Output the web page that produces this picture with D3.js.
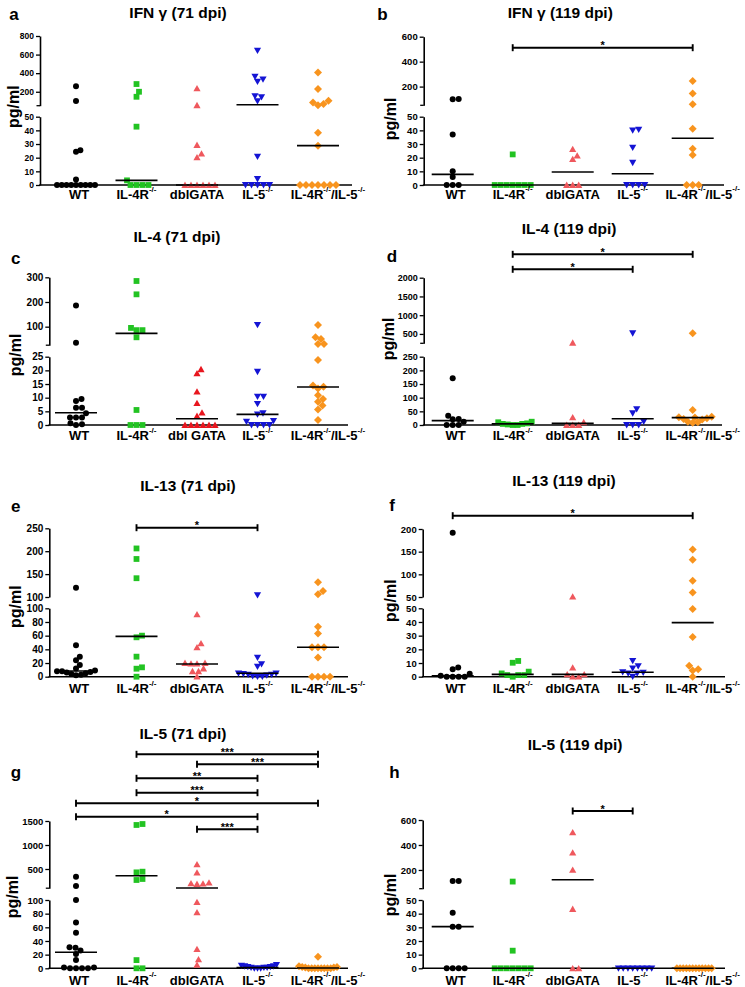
<!DOCTYPE html>
<html><head><meta charset="utf-8">
<script src="https://cdn.jsdelivr.net/npm/d3@7"></script>
<style>
body{margin:0;background:#fff}
text{font-family:"Liberation Sans",Arial,Helvetica,sans-serif;font-weight:bold;fill:#000}
</style>
</head><body>
<svg id="fig" width="745" height="987"></svg>
<script>
// ---------------- DATA ----------------
const categories = ["WT","IL-4R-/-","dblGATA","IL-5-/-","IL-4R-/-/IL-5-/-"];
const categoryLabels  = ["WT","IL-4R{-/-}","dblGATA","IL-5{-/-}","IL-4R{-/-}/IL-5{-/-}"];
const categoryLabelsC = ["WT","IL-4R{-/-}","dbl GATA","IL-5{-/-}","IL-4R{-/-}/IL-5{-/-}"];
const seriesColors = ["#000000","#22c322","#ef585d","#1414d4","#f8941e"];
const seriesColorsC = ["#000000","#22c322","#e8161e","#1414d4","#f8941e"];

// a: IFN-gamma 71 dpi (pg/ml)
const ifn71 = [
  [260,100,25.4,24.4,4.1,0,0,0,0,0,0,0,0,0],
  [283,200,146,42.7,3.4,0,0,0,0],
  [236,55,29.3,23,20.2,0,0,0,0,0,0],
  [642,362,333,308,153,142,99,20.7,4.4,0,0,0,0,0],
  [408,229,103,85,68,55,38.3,28.8,0,0,0,0,0,0,0]
];
const ifn71Median = [0,3.4,0,60,28.8];
const ifn71Lower = [0,50], ifn71Upper = [50,800];
const ifn71LowerTicks = [0,10,20,30,40,50], ifn71UpperTicks = [200,400,600,800];

// b: IFN-gamma 119 dpi
const ifn119 = [
  [101,99,37,10,5.9,0,0,0],
  [22.4,0,0,0,0,0,0,0],
  [26.3,21.5,19,0,0,0],
  [40.5,40,27.3,16.3,0,0,0,0],
  [245,144,59,41.2,26.6,22,0,0,0]
];
const ifn119Median = [7.8,0,9.5,8.2,34.2];
const ifn119Lower = [0,50], ifn119Upper = [50,600];
const ifn119LowerTicks = [0,10,20,30,40,50], ifn119UpperTicks = [200,400,600];
const ifn119Sig = [["IL-4R-/-","IL-4R-/-/IL-5-/-","*"]];

// c: IL-4 71 dpi
const il4_71 = [
  [186,35,9.5,8.8,6.3,6.3,4.3,2.7,2.7,2.7,0.6,0.3,0],
  [285,231,95,86,86,57,5.5,0,0,0],
  [20.4,18.9,12.2,8,4.5,3.3,0,0,0,0,0,0],
  [107,19.5,10.4,10.4,7.7,4.3,3.9,1.5,1.2,0,0,0,0],
  [107,57,50,30,30,23.8,14.5,14,13.4,10.9,9.5,8.5,7.1,5.7,1.8]
];
const il4_71Median = [4.5,73,2.3,3.9,13.9];
const il4_71Lower = [0,25], il4_71Upper = [25,300];
const il4_71LowerTicks = [0,5,10,15,20,25], il4_71UpperTicks = [100,200,300];

// d: IL-4 119 dpi
const il4_119 = [
  [171,34,22,21,12,0,0,0],
  [12,10,6,4,4,2,0,0],
  [265,28,10,0,0,0],
  [518,58,43,12,0,0,0],
  [518,55,30,28,27,25,22,20,12,10,8]
];
const il4_119Median = [16,4,6,23,27];
const il4_119Lower = [0,250], il4_119Upper = [250,2000];
const il4_119LowerTicks = [0,50,100,150,200,250], il4_119UpperTicks = [500,1000,1500,2000];
const il4_119Sig = [["IL-4R-/-","IL-4R-/-/IL-5-/-","*"],["IL-4R-/-","IL-5-/-","*"]];

// e: IL-13 71 dpi
const il13_71 = [
  [120,46,29,24,17,12,9,8,8,7,6,5,4,3,2],
  [206,183,141,60,57.6,29.3,13.7,11.7,0],
  [91,48.8,43,20,20,19,19,12,8,8,0],
  [104,28,18.5,14.6,5,5,4,3,3,2,1,0,0],
  [132,113,106,73,63,43,43,43,28,0,0,0,0]
];
const il13_71Median = [8.3,59,18.5,5,43];
const il13_71Lower = [0,100], il13_71Upper = [100,250];
const il13_71LowerTicks = [0,20,40,60,80,100], il13_71UpperTicks = [100,150,200,250];
const il13_71Sig = [["IL-4R-/-","IL-5-/-","*"]];

// f: IL-13 119 dpi
const il13_119 = [
  [192,6.8,5.4,2.2,0.7,0,0,0,0],
  [11.5,10.2,3.7,2.4,1.2,1.2,1.2,0],
  [50.7,6.6,1.7,1.7,0,0],
  [11.5,7.8,6.1,3.4,3,2.5,2.5,0],
  [155,132,86,60,49.5,29,8,5.4,4.6,0]
];
const il13_119Median = [0.7,1.7,1.7,3.2,39.5];
const il13_119Lower = [0,50], il13_119Upper = [50,200];
const il13_119LowerTicks = [0,10,20,30,40,50], il13_119UpperTicks = [50,100,150,200];
const il13_119Sig = [["WT","IL-4R-/-/IL-5-/-","*"]];

// g: IL-5 71 dpi
const il5_71 = [
  [340,146,100,67,52,31,30,26,21,12,1,1,0,0,0,0],
  [1437,1417,444,430,292,271,12,0,0],
  [597,424,215,201,194,187,97,82,28,13,5],
  [5,4,3,3,2,2,1,1,1,0,0,0],
  [17,3,2,2,1,1,0,0,0,0,0,0,0,0]
];
const il5_71Median = [23.4,360,104,1,0.5];
const il5_71Lower = [0,100], il5_71Upper = [100,1500];
const il5_71LowerTicks = [0,20,40,60,80,100], il5_71UpperTicks = [500,1000,1500];
const il5_71Sig = [
  ["IL-4R-/-","IL-4R-/-/IL-5-/-","***"],
  ["dblGATA","IL-4R-/-/IL-5-/-","***"],
  ["IL-4R-/-","IL-5-/-","**"],
  ["IL-4R-/-","IL-5-/-","***"],
  ["WT","IL-4R-/-/IL-5-/-","*"],
  ["WT","IL-5-/-","*"],
  ["dblGATA","IL-5-/-","***"]
];

// h: IL-5 119 dpi
const il5_119 = [
  [112,112,40.7,30.5,30.5,0,0,0,0],
  [107,12.9,0,0,0,0,0,0,0],
  [501,339,200,43.4,0,0],
  [0,0,0,0,0,0,0,0],
  [0,0,0,0,0,0,0,0,0,0,0,0]
];
const il5_119Median = [30.5,0,121.5,0,0];
const il5_119Lower = [0,50], il5_119Upper = [50,600];
const il5_119LowerTicks = [0,10,20,30,40,50], il5_119UpperTicks = [200,400,600];
const il5_119Sig = [["dblGATA","IL-5-/-","*"]];

// ---------------- LAYOUT ----------------
const L = [76,318], R = [452.7,692.7];
const panels = [
 {letter:"a",title:"IFN γ (71 dpi)",data:ifn71,med:ifn71Median,lo:ifn71Lower,up:ifn71Upper,loT:ifn71LowerTicks,upT:ifn71UpperTicks,sig:[],
  axisX:40,xEnd:352,cols:L,loR:[185,116.7],upR:[105.7,36],tf:8.5,tp:[178,12],lp:[14,14.5],yp:[13.3,106.7],xl:194,sigY:[]},
 {letter:"b",title:"IFN γ (119 dpi)",data:ifn119,med:ifn119Median,lo:ifn119Lower,up:ifn119Upper,loT:ifn119LowerTicks,upT:ifn119UpperTicks,sig:ifn119Sig,
  axisX:423.7,xEnd:724,cols:R,loR:[185,116.7],upR:[105.3,36.7],tf:9.5,tp:[560.3,12],lp:[382.5,14.3],yp:[390.3,119],xl:193.5,sigY:[47.7]},
 {letter:"c",title:"IL-4 (71 dpi)",data:il4_71,med:il4_71Median,lo:il4_71Lower,up:il4_71Upper,loT:il4_71LowerTicks,upT:il4_71UpperTicks,sig:[],
  axisX:49.3,xEnd:348,cols:L,loR:[425,356.7],upR:[345.2,277.3],tf:10,tp:[177,236.7],lp:[15.7,258],yp:[15,355],xl:435,sigY:[],labels:categoryLabelsC,colors:seriesColorsC},
 {letter:"d",title:"IL-4 (119 dpi)",data:il4_119,med:il4_119Median,lo:il4_119Lower,up:il4_119Upper,loT:il4_119LowerTicks,upT:il4_119UpperTicks,sig:il4_119Sig,
  axisX:423.7,xEnd:722,cols:R,loR:[425,356.7],upR:[343.3,277.7],tf:9,tp:[569,228],lp:[392,256],yp:[388,339],xl:435,sigY:[254.3,269.3]},
 {letter:"e",title:"IL-13 (71 dpi)",data:il13_71,med:il13_71Median,lo:il13_71Lower,up:il13_71Upper,loT:il13_71LowerTicks,upT:il13_71UpperTicks,sig:il13_71Sig,
  axisX:49.3,xEnd:348,cols:L,loR:[676.7,608.3],upR:[597,528.3],tf:10,tp:[188,485],lp:[15.7,506.5],yp:[15,606.7],xl:688,sigY:[527.7]},
 {letter:"f",title:"IL-13 (119 dpi)",data:il13_119,med:il13_119Median,lo:il13_119Lower,up:il13_119Upper,loT:il13_119LowerTicks,upT:il13_119UpperTicks,sig:il13_119Sig,
  axisX:422.7,xEnd:725,cols:R,loR:[676.7,608.3],upR:[597,529],tf:9.5,tp:[564,480],lp:[392,505],yp:[390.3,600.7],xl:688.3,sigY:[515.7]},
 {letter:"g",title:"IL-5 (71 dpi)",data:il5_71,med:il5_71Median,lo:il5_71Lower,up:il5_71Upper,loT:il5_71LowerTicks,upT:il5_71UpperTicks,sig:il5_71Sig,
  axisX:49.3,xEnd:348,cols:L,loR:[968.3,900],upR:[888.2,821],tf:9.5,tp:[183,733],lp:[16,772.5],yp:[12.7,897],xl:979.5,sigY:[754.3,764.3,778.3,792.7,803.3,816.7,829.3]},
 {letter:"h",title:"IL-5 (119 dpi)",data:il5_119,med:il5_119Median,lo:il5_119Lower,up:il5_119Upper,loT:il5_119LowerTicks,upT:il5_119UpperTicks,sig:il5_119Sig,
  axisX:422.7,xEnd:725,cols:R,loR:[968.3,900],upR:[888.7,820],tf:9.5,tp:[575,744],lp:[394.5,772],yp:[390.3,895],xl:979.5,sigY:[811]}
];

const shapes = [
  "M3,0A3,3 0 1,1 -3,0A3,3 0 1,1 3,0Z",
  "M-2.9,-2.9h5.8v5.8h-5.8Z",
  "M0,-3.4L3.6,2.9L-3.6,2.9Z",
  "M0,3.4L3.6,-2.9L-3.6,-2.9Z",
  "M0,-4L4,0L0,4L-4,0Z"
];
const labelNudge = [3,0,0,0,10];

const svg = d3.select("#fig");

function swarm(vals, yf, D, maxHW){
  const pts = vals.map(v => ({v, py:yf(v), dx:0}));
  const order = pts.slice().sort((a,b)=>b.py-a.py);
  const placed = [];
  for (const p of order){
    for (let k=0;k<400;k++){
      const dx = (k%2===1?1:-1)*Math.ceil(k/2)*0.5;
      if (placed.every(q => (q.dx-dx)**2 + (q.py-p.py)**2 >= D*D)){ p.dx = dx; break; }
    }
    placed.push(p);
  }
  const m = d3.max(pts, p=>Math.abs(p.dx)) || 0;
  if (m > maxHW) pts.forEach(p => p.dx *= maxHW/m);
  return pts;
}

function richLabel(sel, str, x, y, size){
  const t = sel.append("text").attr("x",x).attr("y",y).attr("text-anchor","middle")
    .attr("dominant-baseline","central").style("font-size",size+"px");
  const parts = str.split(/(\{[^}]*\})/).filter(s=>s.length);
  let raised = false;
  parts.forEach(p=>{
    if (p[0]==="{"){
      t.append("tspan").text(p.slice(1,-1)).style("font-size",(size*0.62)+"px").attr("dy",raised?0:-size*0.42);
      raised = true;
    } else {
      t.append("tspan").text(p).attr("dy",raised?size*0.42:0);
      raised = false;
    }
  });
}

panels.forEach(P=>{
  const g = svg.append("g");
  const colors = P.colors || seriesColors;
  const labels = P.labels || categoryLabels;
  const x = d3.scalePoint().domain(categories).range(P.cols);
  const yL = d3.scaleLinear().domain(P.lo).range(P.loR);
  const yU = d3.scaleLinear().domain(P.up).range(P.upR);
  const y = v => v <= P.lo[1] ? yL(v) : yU(v);

  // axes
  [[yL,P.loT],[yU,P.upT]].forEach(([sc,ticks])=>{
    const ax = g.append("g").attr("transform",`translate(${P.axisX},0)`)
      .call(d3.axisLeft(sc).tickValues(ticks).tickFormat(d3.format("d")).tickSize(4).tickSizeOuter(0).tickPadding(2));
    ax.attr("font-family",null).attr("font-size",null);
    ax.select(".domain").attr("stroke","#000").attr("stroke-width",1.6);
    ax.selectAll(".tick line").attr("stroke","#000").attr("stroke-width",1.3);
    ax.selectAll(".tick text").style("font-size",P.tf+"px").style("font-weight","bold");
  });
  if (!P.upT.includes(P.up[0])){
    g.append("line").attr("x1",P.axisX-3.5).attr("x2",P.axisX).attr("y1",yU(P.up[0])).attr("y2",yU(P.up[0]))
      .attr("stroke","#000").attr("stroke-width",1.3);
  }
  g.append("line").attr("x1",P.axisX-0.8).attr("x2",P.xEnd).attr("y1",yL(0)).attr("y2",yL(0))
    .attr("stroke","#000").attr("stroke-width",1.6);

  // points
  P.data.forEach((vals,i)=>{
    const pts = swarm(vals, y, 5.6, 19);
    g.append("g").selectAll("path").data(pts).join("path")
      .attr("d",shapes[i]).attr("fill",colors[i])
      .attr("transform",d=>`translate(${x(categories[i])+d.dx},${d.py})`);
  });

  // medians
  g.append("g").selectAll("line").data(P.med).join("line")
    .attr("x1",(d,i)=>x(categories[i])-21).attr("x2",(d,i)=>x(categories[i])+21)
    .attr("y1",d=>y(d)).attr("y2",d=>y(d)).attr("stroke","#000").attr("stroke-width",1.6);

  // significance bars
  P.sig.forEach((s,k)=>{
    const x1 = x(s[0]), x2 = x(s[1]), yy = P.sigY[k];
    const sg = g.append("g").attr("stroke","#000").attr("stroke-width",1.9);
    sg.append("line").attr("x1",x1).attr("x2",x2).attr("y1",yy).attr("y2",yy);
    sg.append("line").attr("x1",x1).attr("x2",x1).attr("y1",yy-3.5).attr("y2",yy+3.5);
    sg.append("line").attr("x1",x2).attr("x2",x2).attr("y1",yy-3.5).attr("y2",yy+3.5);
    g.append("text").attr("x",(x1+x2)/2).attr("y",yy+1.5).attr("text-anchor","middle")
      .style("font-size","11px").text(s[2]);
  });

  // category labels
  labels.forEach((lab,i)=>richLabel(g, lab, x(categories[i])+labelNudge[i], P.xl, 13));

  // title, letter, y label
  g.append("text").attr("x",P.tp[0]).attr("y",P.tp[1]).attr("text-anchor","middle")
    .attr("dominant-baseline","central").style("font-size","15.5px").text(P.title);
  g.append("text").attr("x",P.lp[0]).attr("y",P.lp[1]).attr("text-anchor","middle")
    .attr("dominant-baseline","central").style("font-size","17px").text(P.letter);
  g.append("text").attr("transform",`translate(${P.yp[0]},${P.yp[1]}) rotate(-90)`)
    .attr("text-anchor","middle").attr("dominant-baseline","central").style("font-size","16px").text("pg/ml");
});
</script>
</body></html>
